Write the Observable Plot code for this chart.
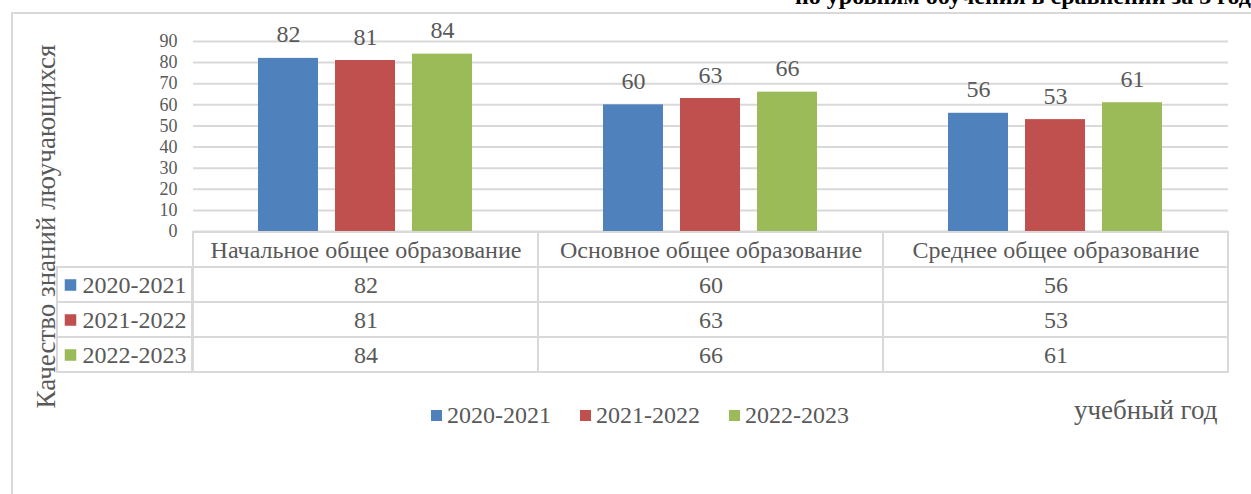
<!DOCTYPE html>
<html>
<head>
<meta charset="utf-8">
<script src="https://cdn.jsdelivr.net/npm/d3@7"></script>
<script src="https://cdn.jsdelivr.net/npm/@observablehq/plot@0.6"></script>
<style>
  html, body { margin: 0; padding: 0; overflow: hidden; background: #fff; }
  #root { position: relative; width: 1251px; height: 494px; overflow: hidden; font-family: "Liberation Serif", "Times New Roman", serif; color: #595959; }
  #root > * { position: absolute; left: 0; top: 0; }
  .frame { left: 11px !important; top: 12px !important; width: 1300px; height: 600px; border-left: 2px solid #D9D9D9; border-top: 2px solid #D9D9D9; }
  .title { left: 795px !important; top: -16px !important; white-space: nowrap; font-weight: bold; font-size: 24px; line-height: 1; color: #000; }
  .legend { top: 403px !important; left: 431px !important; display: flex; align-items: center; font-size: 24px; line-height: 1; white-space: nowrap; }
  .legend .sw { display: inline-block; width: 11px; height: 11px; margin-right: 5px; }
  .legend .item { display: inline-flex; align-items: center; margin-right: 29px; }
  .xlabel { left: 1074px !important; top: 397px !important; font-size: 27px; line-height: 1; white-space: nowrap; }
</style>
</head>
<body>
<div id="root"></div>
<script>
const categories = ["Начальное общее образование", "Основное общее образование", "Среднее общее образование"];
const series = ["2020-2021", "2021-2022", "2022-2023"];
const values2020 = [82, 60, 56];
const values2021 = [81, 63, 53];
const values2022 = [84, 66, 61];
const colors = ["#4F81BD", "#C0504D", "#9BBB59"];
const yTicks = [0, 10, 20, 30, 40, 50, 60, 70, 80, 90];
const titleText = "по уровням обучения в сравнении за 3 года";
const yTitle = "Качество знаний люучающихся";
const xTitle = "учебный год";
const headerRow = " ";

const allValues = [values2020, values2021, values2022];
const data = [];
series.forEach((s, si) => categories.forEach((c, ci) => data.push({series: s, category: c, value: allValues[si][ci]})));

const root = document.getElementById("root");
const font = '"Liberation Serif", "Times New Roman", serif';
const textColor = "#595959";
const grid = "#D9D9D9";

// outer chart-area border
const frame = document.createElement("div");
frame.className = "frame";
root.appendChild(frame);

// bar chart
const chart = Plot.plot({
  width: 1251,
  height: 240,
  marginTop: 41,
  marginBottom: 9,
  marginLeft: 192,
  marginRight: 23,
  style: {fontFamily: font, color: textColor, background: "transparent", overflow: "visible"},
  fx: {domain: categories, padding: 0, axis: null},
  x: {domain: series, paddingInner: 0.22, paddingOuter: 0.85, axis: null},
  y: {domain: [0, 90], ticks: yTicks, axis: null},
  color: {domain: series, range: colors},
  marks: [
    Plot.gridY(yTicks, {stroke: grid, strokeOpacity: 1, strokeWidth: 2}),
    Plot.barY(data, {fx: "category", x: "series", y: "value", fill: "series"}),
    Plot.text(data, {fx: "category", x: "series", y: "value", text: d => String(d.value), lineAnchor: "bottom", dy: -16, fontSize: 24, fill: textColor}),
    Plot.text(yTicks, {fx: () => categories[0], y: d => d, text: d => String(d), frameAnchor: "left", textAnchor: "end", dx: -16, fontSize: 18, fill: textColor}),
    Plot.text([yTitle], {fx: () => categories[0], frameAnchor: "left", textAnchor: "middle", text: d => d, rotate: -90, dx: -147, dy: 90, fontSize: 27, fill: textColor})
  ]
});
root.appendChild(chart);

// data table: header + value cells
const rows = [headerRow, ...series];
const headerCells = categories.map(c => ({series: headerRow, category: c}));
const table = Plot.plot({
  width: 1251,
  height: 380,
  marginTop: 232,
  marginBottom: 8,
  marginLeft: 192,
  marginRight: 23,
  style: {fontFamily: font, color: textColor, background: "transparent", overflow: "visible"},
  x: {domain: categories, padding: 0, axis: null},
  y: {domain: rows, padding: 0, axis: null},
  marks: [
    Plot.cell([...headerCells, ...data], {x: "category", y: "series", fill: "none", stroke: grid, strokeWidth: 2}),
    Plot.text(headerCells, {x: "category", y: "series", text: "category", fontSize: 24, fill: textColor}),
    Plot.text(data, {x: "category", y: "series", text: d => String(d.value), fontSize: 24, fill: textColor})
  ]
});
root.appendChild(table);

// data table: series label column
const labelCol = "label";
const labels = Plot.plot({
  width: 1251,
  height: 380,
  marginTop: 232,
  marginBottom: 8,
  marginLeft: 57,
  marginRight: 1251 - 192,
  style: {fontFamily: font, color: textColor, background: "transparent", overflow: "visible"},
  x: {domain: [labelCol], padding: 0, axis: null},
  y: {domain: rows, padding: 0, axis: null},
  color: {domain: series, range: colors},
  marks: [
    Plot.cell(series, {x: () => labelCol, y: d => d, fill: "none", stroke: grid, strokeWidth: 2}),
    Plot.dot(series, {y: d => d, frameAnchor: "left", dx: 13, symbol: "square", r: 6.5, fill: d => d}),
    Plot.text(series, {y: d => d, frameAnchor: "left", dx: 25, textAnchor: "start", text: d => d, fontSize: 24, fill: textColor})
  ]
});
root.appendChild(labels);

// title, cut at the top and right edges like the original
const title = document.createElement("div");
title.className = "title";
title.textContent = titleText;
root.appendChild(title);

// legend
const legend = document.createElement("div");
legend.className = "legend";
series.forEach((s, i) => {
  const item = document.createElement("span");
  item.className = "item";
  const sw = document.createElement("span");
  sw.className = "sw";
  sw.style.background = colors[i];
  item.appendChild(sw);
  item.appendChild(document.createTextNode(s));
  legend.appendChild(item);
});
root.appendChild(legend);

const xl = document.createElement("div");
xl.className = "xlabel";
xl.textContent = xTitle;
root.appendChild(xl);
</script>
</body>
</html>
